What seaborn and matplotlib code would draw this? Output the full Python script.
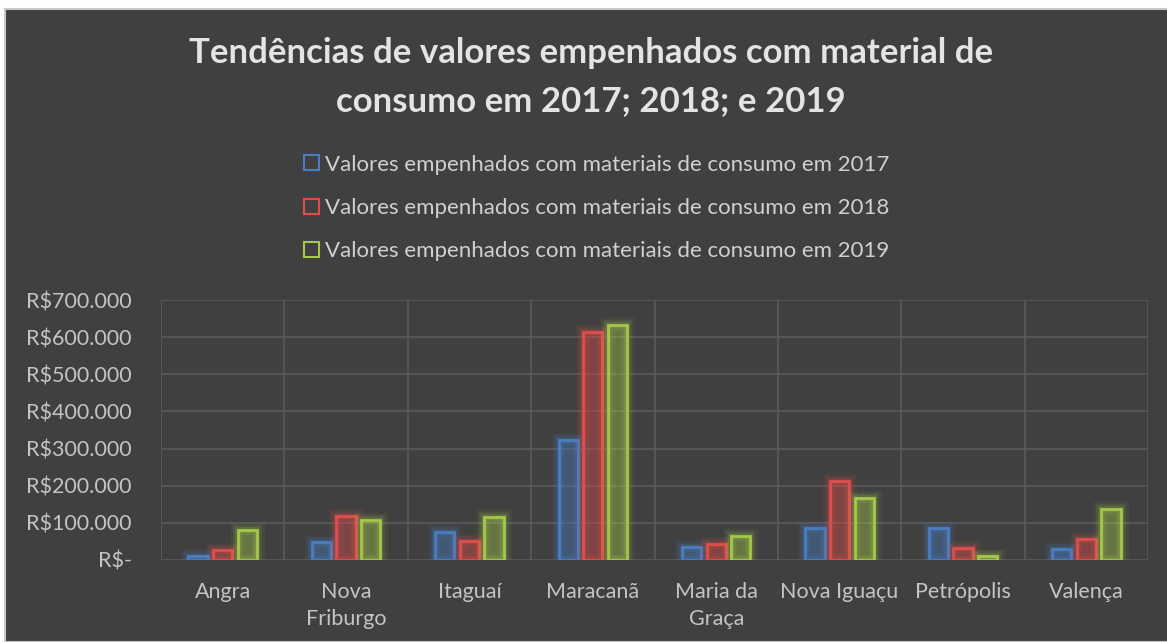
import numpy as np
import pandas as pd
import matplotlib
matplotlib.use('Agg')
import matplotlib.pyplot as plt
import matplotlib.patheffects as pe
from matplotlib.patches import Patch, Rectangle
import seaborn as sns

## Data
campi = ['Angra', 'Nova\nFriburgo', 'Itaguaí', 'Maracanã', 'Maria da\nGraça',
         'Nova Iguaçu', 'Petrópolis', 'Valença']
v2017 = [10000, 49000, 76000, 323000, 34000, 85000, 85000, 29000]
v2018 = [27000, 118000, 52000, 615000, 42000, 213000, 31000, 56000]
v2019 = [80000, 109000, 115000, 633000, 65000, 166000, 11000, 136000]
series = ['Valores empenhados com materiais de consumo em 2017',
          'Valores empenhados com materiais de consumo em 2018',
          'Valores empenhados com materiais de consumo em 2019']
yticks = [0, 100000, 200000, 300000, 400000, 500000, 600000, 700000]
title = 'Tendências de valores empenhados com material de\nconsumo em 2017; 2018; e 2019'

colors = ['#4A7EC2', '#DE4F4C', '#A3C84A']
bg = '#404040'

df = pd.DataFrame({
    'campus': campi * 3,
    'serie': [series[0]] * 8 + [series[1]] * 8 + [series[2]] * 8,
    'valor': v2017 + v2018 + v2019,
})

## Figure
sns.set_style('dark')
plt.rcParams['font.family'] = ['Lato', 'DejaVu Sans']
fig = plt.figure(figsize=(11.67, 6.42), dpi=100, facecolor='white')
# dark chart area with a thin light border
fig.patches.append(Rectangle((5 / 1167, 0), 1, 1 - 9 / 642, transform=fig.transFigure,
                             facecolor=bg, edgecolor='#c8c8c8', linewidth=1.5, zorder=-5))

ax = fig.add_axes([161 / 1167, 1 - 560 / 642, (1148 - 161) / 1167, 260 / 642])
ax.set_facecolor(bg)
sns.barplot(data=df, x='campus', y='valor', hue='serie', palette=colors,
            width=0.6, gap=0.22, legend=False, ax=ax, zorder=3)

# hollow bars with a soft glow
for i, p in enumerate(ax.patches):
    if i >= 3 * len(campi):
        continue
    c = colors[i // len(campi)]
    p.set_facecolor(matplotlib.colors.to_rgba(c, 0.07))
    p.set_edgecolor(c)
    p.set_linewidth(2)
    p.set_path_effects([pe.Stroke(linewidth=11, foreground=c, alpha=0.07),
                        pe.Stroke(linewidth=7, foreground=c, alpha=0.12),
                        pe.Stroke(linewidth=4, foreground=c, alpha=0.2),
                        pe.Normal()])

## Axes customization
ax.set_ylim(0, 700000)
ax.set_xlim(-0.5, len(campi) - 0.5)
ax.set_yticks(yticks)
ax.set_yticklabels(['R$-' if v == 0 else 'R$' + f'{v:,.0f}'.replace(',', '.') for v in yticks])
ax.set_xticks(range(len(campi)))
ax.set_xticklabels(campi, linespacing=1.45)
ax.set_xticks(np.arange(-0.5, len(campi), 1), minor=True)
ax.grid(axis='y', which='major', color='#5a5a5a', linewidth=1.2, zorder=0)
ax.grid(axis='x', which='minor', color='#5a5a5a', linewidth=1.2, zorder=0)
ax.grid(axis='x', which='major', visible=False)
ax.tick_params(axis='both', which='both', length=0, colors='#c4c4c4', labelsize=15.5)
ax.tick_params(axis='x', pad=16)
ax.tick_params(axis='y', pad=21)
ax.set_xlabel('')
ax.set_ylabel('')
for s in ax.spines.values():
    s.set_visible(False)

## Title and legend
fig.text(591 / 1167, 1 - 77 / 642, title, ha='center', va='center', fontsize=25,
         fontweight='bold', color='#e4e4e4', linespacing=1.6)
handles = [Patch(facecolor='none', edgecolor=c, linewidth=1.5) for c in colors]
leg = fig.legend(handles, series, loc='center', bbox_to_anchor=(597 / 1167, 1 - 208 / 642),
                 ncol=1, frameon=False, fontsize=16, labelcolor='#d0d0d0',
                 handlelength=0.65, handleheight=0.65, handletextpad=0.3, labelspacing=1.05)

fig.savefig('out.png', dpi=100, facecolor='white')
